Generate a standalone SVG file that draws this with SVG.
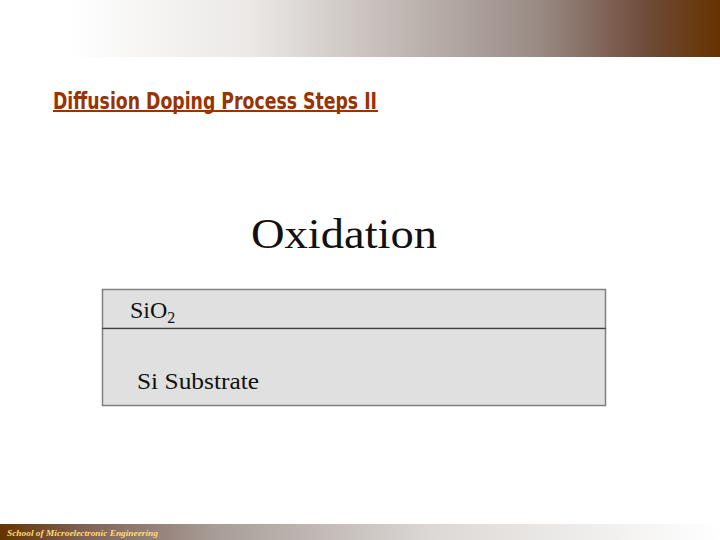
<svg xmlns="http://www.w3.org/2000/svg" width="720" height="540" viewBox="0 0 720 540">
<defs>
<linearGradient id="topg" x1="0" y1="0" x2="1" y2="0">
<stop offset="0" stop-color="#ffffff"/>
<stop offset="0.09" stop-color="#ffffff"/>
<stop offset="0.35" stop-color="#ebe8e6"/>
<stop offset="0.6" stop-color="#b8aea9"/>
<stop offset="0.75" stop-color="#998a84"/>
<stop offset="0.9" stop-color="#6e4a38"/>
<stop offset="1" stop-color="#663300"/>
</linearGradient>
<linearGradient id="botg" x1="0" y1="0" x2="1" y2="0">
<stop offset="0" stop-color="#663300"/>
<stop offset="0.12" stop-color="#806356"/>
<stop offset="0.3" stop-color="#a89d98"/>
<stop offset="0.6" stop-color="#dcd8d5"/>
<stop offset="1" stop-color="#ffffff"/>
</linearGradient>
<style>
.title{font-family:"DejaVu Sans Condensed","DejaVu Sans",sans-serif;font-weight:bold;font-size:23px;fill:#993300;}
.serif{font-family:"Liberation Serif","Times New Roman",serif;fill:#111111;}
.layer{fill:#e0e0e0;stroke:#808080;stroke-width:1.5;}
.foot{font-family:"Liberation Serif",serif;font-style:italic;font-weight:bold;font-size:8.5px;fill:#ffdd77;}
</style>
</defs>
<rect x="0" y="0" width="720" height="57" fill="url(#topg)"/>
<rect x="0" y="524" width="720" height="16" fill="url(#botg)"/>
<g id="title">
<text class="title" x="53" y="108.5" textLength="324" lengthAdjust="spacingAndGlyphs">Diffusion Doping Process Steps II</text>
<rect x="53" y="110" width="325" height="2" fill="#993300"/>
</g>
<g id="heading">
<text class="serif" x="251" y="248" font-size="42" textLength="186" lengthAdjust="spacingAndGlyphs">Oxidation</text>
</g>
<g id="sio2-layer">
<rect class="layer" x="102.5" y="289.5" width="503" height="39"/>
<text class="serif" x="130" y="318" font-size="24">SiO<tspan font-size="16" dy="5">2</tspan></text>
</g>
<g id="substrate-layer">
<rect class="layer" x="102.5" y="328.5" width="503" height="77"/>
<line x1="102.5" y1="328.5" x2="605.5" y2="328.5" stroke="#404040" stroke-width="1.2"/>
<text class="serif" x="137" y="389" font-size="24" textLength="122" lengthAdjust="spacingAndGlyphs">Si Substrate</text>
</g>
<g id="connectors"/>
<g id="footer">
<text class="foot" x="7" y="536" textLength="151" lengthAdjust="spacingAndGlyphs">School of Microelectronic Engineering</text>
</g>
</svg>
